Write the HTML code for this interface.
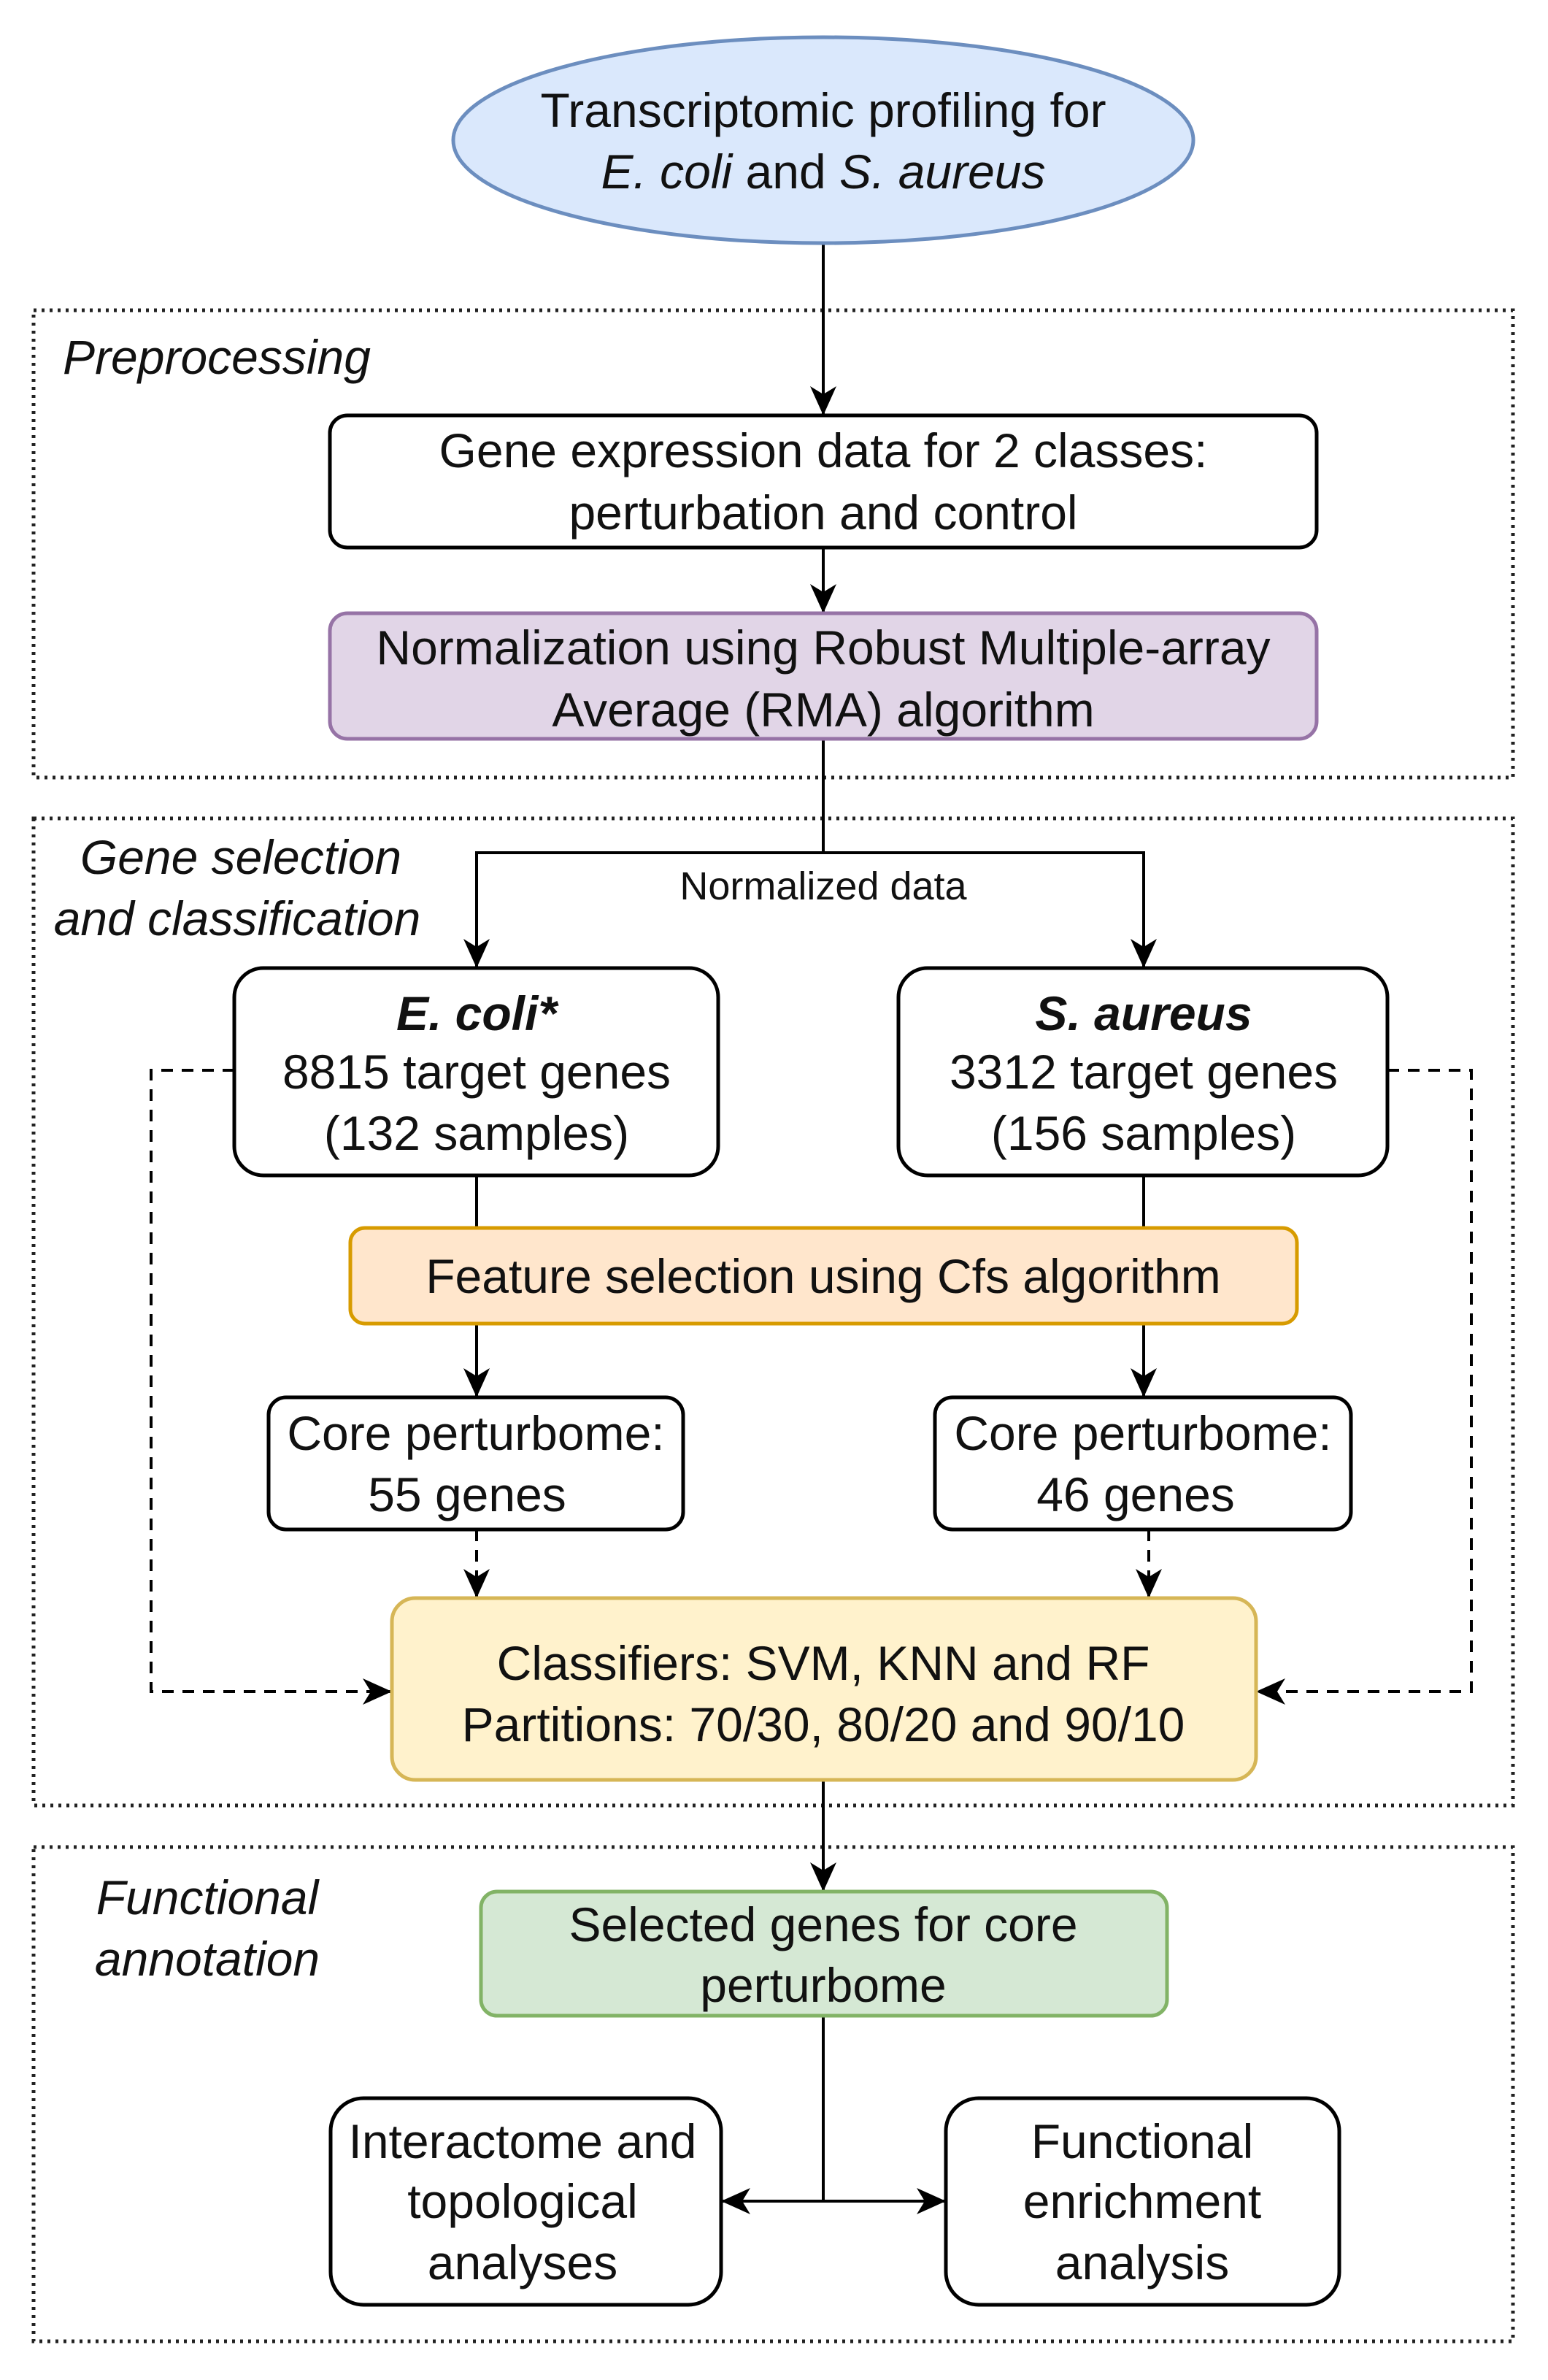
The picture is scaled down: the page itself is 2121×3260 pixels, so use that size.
<!DOCTYPE html>
<html><head><meta charset="utf-8"><style>
html,body{margin:0;padding:0;background:#fff}
svg{display:block}
text{font-family:"Liberation Sans",Arial,sans-serif;font-size:66px;fill:#111;text-anchor:middle;dominant-baseline:central}
.it{font-style:italic}
</style></head><body>
<svg width="2121" height="3260" viewBox="0 0 2121 3260" xmlns="http://www.w3.org/2000/svg">
<defs>
<marker id="b" viewBox="0 0 40 40" refX="38" refY="20" markerWidth="40" markerHeight="40" markerUnits="userSpaceOnUse" orient="auto">
<path d="M0,2 L40,20 L0,38 L11,20 Z" fill="#000"/>
</marker>
</defs>
<g fill="none" stroke="#222" stroke-width="5" stroke-dasharray="4 7">
<rect x="46" y="425" width="2027" height="640"/>
<rect x="46" y="1121" width="2027" height="1352"/>
<rect x="46" y="2530" width="2027" height="677"/>
</g>
<text class="it" x="297" y="489">Preprocessing</text>
<text class="it" x="330" y="1174">Gene selection</text>
<text class="it" x="325" y="1258">and classification</text>
<text class="it" x="284" y="2599">Functional</text>
<text class="it" x="284" y="2683">annotation</text>

<g stroke="#000" stroke-width="4" fill="none">
<line x1="1128" y1="333" x2="1128" y2="567" marker-end="url(#b)"/>
<line x1="1128" y1="751" x2="1128" y2="838" marker-end="url(#b)"/>
<polyline points="1128,1012 1128,1168 653,1168 653,1324" marker-end="url(#b)"/>
<polyline points="1128,1168 1567,1168 1567,1324" marker-end="url(#b)"/>
<line x1="653" y1="1610" x2="653" y2="1682"/>
<line x1="1567" y1="1610" x2="1567" y2="1682"/>
<line x1="653" y1="1813" x2="653" y2="1912" marker-end="url(#b)"/>
<line x1="1567" y1="1813" x2="1567" y2="1912" marker-end="url(#b)"/>
<line x1="1128" y1="2438" x2="1128" y2="2589" marker-end="url(#b)"/>
<line x1="1128" y1="2761" x2="1128" y2="3015"/>
<line x1="1128" y1="3015" x2="990" y2="3015" marker-end="url(#b)"/>
<line x1="1128" y1="3015" x2="1294" y2="3015" marker-end="url(#b)"/>
</g>
<g stroke="#000" stroke-width="4" fill="none" stroke-dasharray="16 12">
<line x1="653" y1="2095" x2="653" y2="2187" marker-end="url(#b)"/>
<line x1="1574" y1="2095" x2="1574" y2="2187" marker-end="url(#b)"/>
<polyline points="321,1466 207,1466 207,2317 535,2317" marker-end="url(#b)"/>
<polyline points="1901,1466 2016,1466 2016,2317 1723,2317" marker-end="url(#b)"/>
</g>

<ellipse cx="1128" cy="192" rx="507" ry="141" fill="#dae8fc" stroke="#6c8ebf" stroke-width="5"/>
<text x="1128" y="151">Transcriptomic profiling for</text>
<text x="1128" y="235"><tspan class="it">E. coli</tspan> and <tspan class="it">S. aureus</tspan></text>

<rect x="452" y="569" width="1352" height="181" rx="24" fill="#fff" stroke="#000" stroke-width="5"/>
<text x="1128" y="617">Gene expression data for 2 classes:</text>
<text x="1128" y="702">perturbation and control</text>

<rect x="452" y="840" width="1352" height="172" rx="24" fill="#e1d5e7" stroke="#9673a6" stroke-width="5"/>
<text x="1128" y="887">Normalization using Robust Multiple-array</text>
<text x="1128" y="972">Average (RMA) algorithm</text>

<text x="1128" y="1214" style="font-size:54px">Normalized data</text>

<rect x="321" y="1326" width="663" height="284" rx="40" fill="#fff" stroke="#000" stroke-width="5"/>
<text x="653" y="1388" class="it" font-weight="bold">E. coli*</text>
<text x="653" y="1468">8815 target genes</text>
<text x="653" y="1552">(132 samples)</text>

<rect x="1231" y="1326" width="670" height="284" rx="40" fill="#fff" stroke="#000" stroke-width="5"/>
<text x="1567" y="1388" class="it" font-weight="bold">S. aureus</text>
<text x="1567" y="1468">3312 target genes</text>
<text x="1567" y="1552">(156 samples)</text>

<rect x="480" y="1682" width="1297" height="131" rx="20" fill="#ffe6cc" stroke="#d79b00" stroke-width="5"/>
<text x="1128" y="1748">Feature selection using Cfs algorithm</text>

<rect x="368" y="1914" width="568" height="181" rx="24" fill="#fff" stroke="#000" stroke-width="5"/>
<text x="652" y="1963">Core perturbome:</text>
<text x="640" y="2047">55 genes</text>
<rect x="1281" y="1914" width="570" height="181" rx="24" fill="#fff" stroke="#000" stroke-width="5"/>
<text x="1566" y="1963">Core perturbome:</text>
<text x="1556" y="2047">46 genes</text>

<rect x="537" y="2189" width="1184" height="249" rx="32" fill="#fff2cc" stroke="#d6b656" stroke-width="5"/>
<text x="1128" y="2278">Classifiers: SVM, KNN and RF</text>
<text x="1128" y="2362">Partitions: 70/30, 80/20 and 90/10</text>

<rect x="659" y="2591" width="940" height="170" rx="22" fill="#d5e8d4" stroke="#82b366" stroke-width="5"/>
<text x="1128" y="2636">Selected genes for core</text>
<text x="1128" y="2719">perturbome</text>

<rect x="453" y="2874" width="535" height="283" rx="45" fill="#fff" stroke="#000" stroke-width="5"/>
<text x="716" y="2933">Interactome and</text>
<text x="716" y="3015">topological</text>
<text x="716" y="3099">analyses</text>
<rect x="1296" y="2874" width="539" height="283" rx="45" fill="#fff" stroke="#000" stroke-width="5"/>
<text x="1565" y="2933">Functional</text>
<text x="1565" y="3015">enrichment</text>
<text x="1565" y="3099">analysis</text>
</svg>
</body></html>
